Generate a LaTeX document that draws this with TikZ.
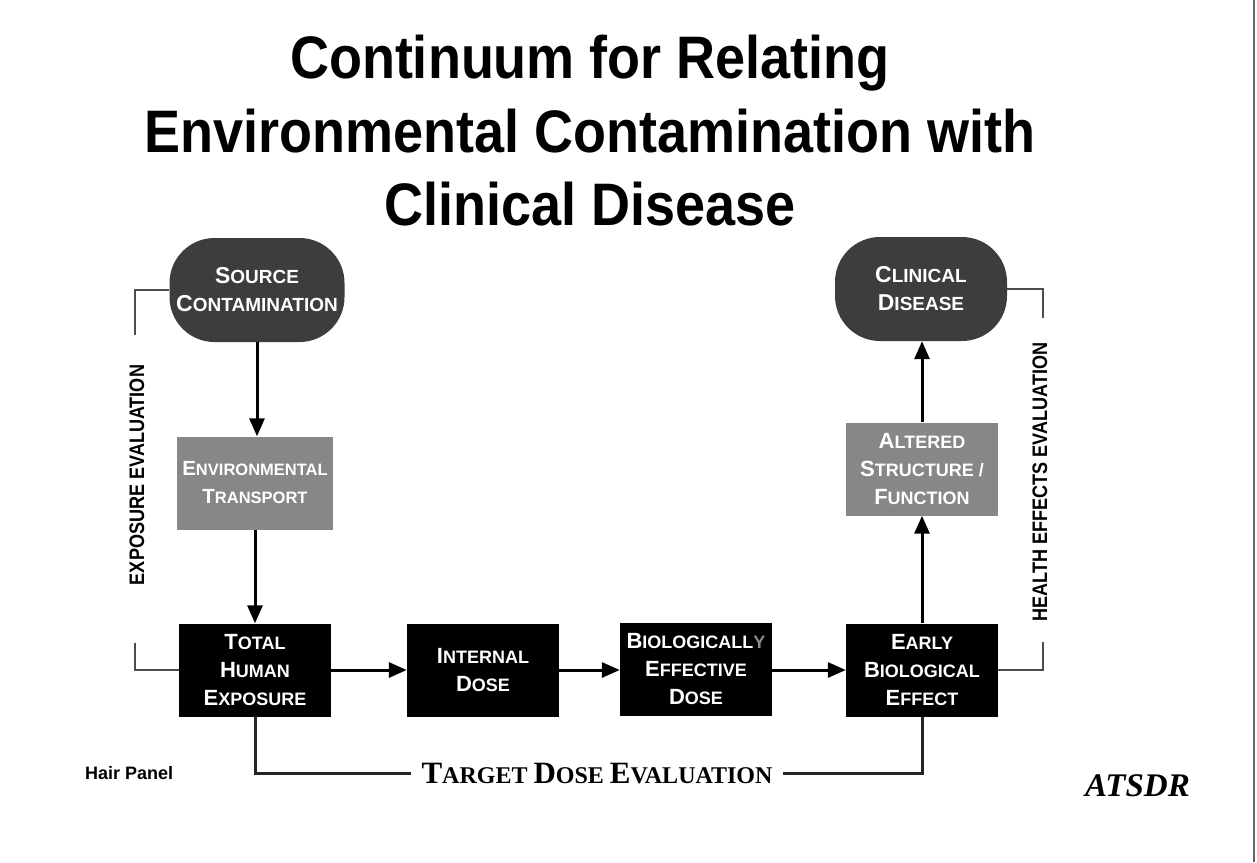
\documentclass[tikz,border=0pt]{standalone}
\usepackage{fontspec}
\setmainfont{Liberation Sans}
\newfontfamily\titlefont[FakeStretch=0.9]{Liberation Sans}
\newfontfamily\narrowfont[FakeStretch=0.86]{Liberation Sans}
\newfontfamily\serifont{Liberation Serif}
\usetikzlibrary{arrows.meta}

\newcommand\capsize{22}
\newcommand\capword[2]{{\fontsize{\capsize}{28}\selectfont #1}#2}

\begin{document}
\begin{tikzpicture}[x=1pt, y=-1pt,
    title/.style={font=\titlefont\bfseries\fontsize{60}{72}\selectfont, anchor=base, inner sep=0pt},
    box/.style={minimum width=152pt, minimum height=93pt, inner sep=0pt, align=center, text=white,
        font=\bfseries\fontsize{18}{28}\selectfont},
    blackbox/.style={box, fill=black},
    graybox/.style={box, fill=black!47},
    roundbox/.style={box, fill=black!76, rounded corners=45pt, minimum width=175pt, minimum height=104pt,
        font=\bfseries\fontsize{19}{28}\selectfont\def\capsize{23}},
    flow/.style={line width=3pt, -{Triangle[length=18pt,width=15pt]}},
    bracket/.style={line width=2pt, black!70},
    evallabel/.style={font=\narrowfont\bfseries\fontsize{21}{24}\selectfont, inner sep=0pt},
    targetline/.style={line width=3pt, black!85}]

    \useasboundingbox (0,0) rectangle (1257,862);
    \fill[white] (0,0) rectangle (1257,862);

    % Title
    \node[title] (title1) at (590,78) {Continuum for Relating};
    \node[title] (title2) at (590,152) {Environmental Contamination with};
    \node[title] (title3) at (590,225) {Clinical Disease};

    % Boxes of the continuum
    \node[roundbox] (src) at (257,290) {\capword{S}{OURCE}\\\capword{C}{ONTAMINATION}};
    \node[graybox, minimum width=156pt, font=\bfseries\fontsize{16.5}{28}\selectfont\def\capsize{20.5}] (env)
        at (255,483) {\capword{E}{NVIRONMENTAL}\\\capword{T}{RANSPORT}};
    \node[blackbox] (the) at (255,670) {\capword{T}{OTAL}\\\capword{H}{UMAN}\\\capword{E}{XPOSURE}};
    \node[blackbox] (id) at (483,670) {\capword{I}{NTERNAL}\\\capword{D}{OSE}};
    \node[blackbox] (bed) at (696,669) {\capword{B}{IOLOGICALL}\textcolor{black!45}{Y}\\\capword{E}{FFECTIVE}\\\capword{D}{OSE}};
    \node[blackbox] (ebe) at (922,670) {\capword{E}{ARLY}\\\capword{B}{IOLOGICAL}\\\capword{E}{FFECT}};
    \node[graybox] (asf) at (922,469) {\capword{A}{LTERED}\\\capword{S}{TRUCTURE /}\\\capword{F}{UNCTION}};
    \node[roundbox, minimum width=172pt] (cd) at (921,289) {\capword{C}{LINICAL}\\\capword{D}{ISEASE}};

    % Flow arrows
    \draw[flow] (src.south) -- (src.south |- env.north);
    \draw[flow] (env.south) -- (env.south |- the.north);
    \draw[flow] (the.east) -- (id.west);
    \draw[flow] (id.east) -- (bed.west |- id.east);
    \draw[flow] (bed.east |- id.east) -- (ebe.west);
    \draw[flow] (ebe.north) -- (asf.south);
    \draw[flow] (asf.north) -- (asf.north |- cd.south);

    % Exposure evaluation bracket
    \node[evallabel, rotate=90] (expo) at (137,475) {EXPOSURE EVALUATION};
    \coordinate (expotop) at (135,335);
    \coordinate (expobot) at (135,643);
    \draw[bracket] (src.west) -| (expotop);
    \draw[bracket] (expobot) |- (the.west);

    % Health effects evaluation bracket
    \node[evallabel, rotate=90] (health) at (1040,482) {HEALTH EFFECTS EVALUATION};
    \coordinate (healthtop) at (1043,318);
    \coordinate (healthbot) at (1043,642);
    \draw[bracket] (cd.east) -| (healthtop);
    \draw[bracket] (healthbot) |- (ebe.east);

    % Target dose evaluation
    \node[font={\serifont\bfseries\fontsize{24}{28}\selectfont\def\capsize{31}}, anchor=base, inner xsep=10pt] (tde)
        at (597,783) {\capword{T}{ARGET} \capword{D}{OSE} \capword{E}{VALUATION}};
    \draw[targetline] (the.south) |- (tde.west);
    \draw[targetline] (tde.east) -| (ebe.south);

    % Footer texts
    \node[font=\bfseries\fontsize{18}{20}\selectfont, anchor=base west, inner sep=0pt] (hair) at (85,779) {Hair Panel};
    \node[font=\serifont\bfseries\itshape\fontsize{33}{36}\selectfont, anchor=base west, inner sep=0pt] (atsdr) at (1085,796) {ATSDR};

    % right edge rule
    \draw[line width=2pt, black!60] (1254,0) -- (1254,862);

\end{tikzpicture}
\end{document}
